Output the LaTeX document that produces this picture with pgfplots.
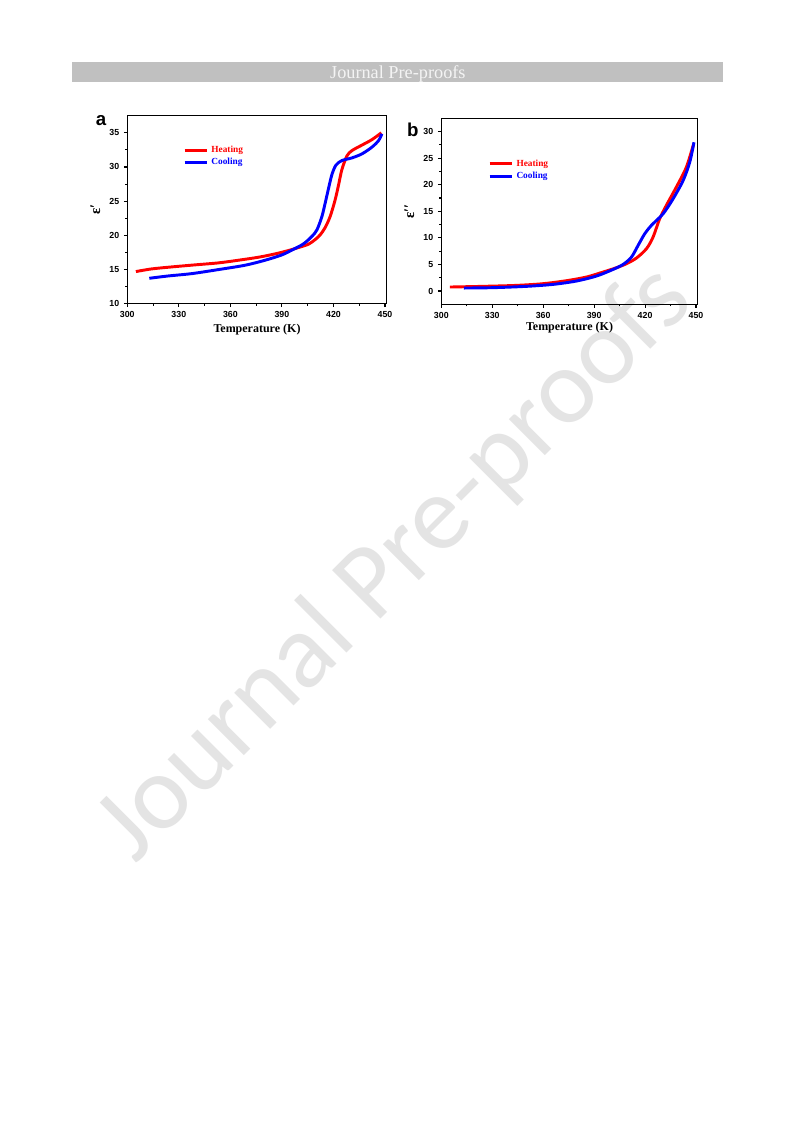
\documentclass[border=0pt]{standalone}
\usepackage{fontspec}
\setmainfont{Liberation Serif}
\newfontfamily\arialfont{Liberation Sans}
\newfontfamily\wmfont{Carlito}
\usepackage{pgfplots}
\pgfplotsset{compat=1.18}
\definecolor{barcol}{HTML}{C0C0C0}
\definecolor{wmcol}{HTML}{E4E4E4}
\definecolor{hdrtext}{HTML}{F4F4F4}

\pgfplotsset{myax/.style={
  scale only axis, anchor=north west,
  axis line style={line width=1pt},
  every tick/.style={black, line width=0.8pt},
  tick align=outside, xtick pos=left, ytick pos=left,
  major tick length=2.5pt, minor tick length=1.6pt,
  xmin=300, xmax=451, xtick={300,330,...,450}, minor x tick num=1,
  tick label style={font=\arialfont\bfseries\fontsize{6.6}{6.6}\selectfont},
  /pgf/number format/assume math mode=true,
  xlabel={Temperature (K)},
  xlabel style={font=\bfseries\fontsize{9}{9}\selectfont},
  ylabel style={font=\bfseries\fontsize{11}{11}\selectfont},
  legend style={draw=none, fill=none, inner sep=0pt, column sep=2pt, row sep=1.7pt,
    nodes={inner sep=0.5pt}, font=\bfseries\fontsize{7}{7}\selectfont},
  legend cell align=left,
  legend image code/.code={\draw[#1] (0pt,0pt) -- (16.5pt,0pt);},
  every axis plot/.append style={line width=2.2pt, smooth},
}}

\begin{document}
\begin{tikzpicture}
\fill[white] (0pt,0pt) rectangle (594.75pt,-840.75pt);
\node[rotate=45, text=wmcol, font=\wmfont\fontsize{80}{80}\selectfont, inner sep=0pt] at (297pt,-423pt) {Journal Pre-proofs};
\fill[barcol] (54pt,-46.7pt) rectangle (542.25pt,-61.7pt);
\node[text=hdrtext, font=\fontsize{13.7}{13.7}\selectfont, anchor=base, inner sep=0pt] at (298.4pt,-58.7pt) {Journal Pre-proofs};

\node[font=\arialfont\bfseries\fontsize{14}{14}\selectfont] at (75.8pt,-90.5pt) {a};
\node[font=\arialfont\bfseries\fontsize{14}{14}\selectfont] at (309.7pt,-97pt) {b};

\begin{axis}[myax, at={(95.475pt,-86.775pt)}, width=194.55pt, height=141pt,
  ymin=10, ymax=37.5, ytick={10,15,...,35}, minor y tick num=1,
  ylabel={ε′}, xlabel style={yshift=2.2pt},
  legend style={at={(0.214,0.844)}, anchor=north west}]
\addplot[red] coordinates {(305.0,14.70) (314.2,15.09) (325.8,15.38) (339.4,15.68) (353.0,15.97) (364.7,16.36) (376.4,16.80) (386.1,17.29) (393.8,17.78) (399.7,18.22) (405.5,18.71) (409.4,19.39) (412.3,20.08) (415.2,21.15) (418.1,22.77) (421.0,25.20) (423.0,27.40) (424.9,29.60) (427.8,31.60) (430.8,32.40) (436.6,33.20) (442.4,34.00) (447.9,35.00)};
\addplot[blue] coordinates {(312.8,13.72) (323.9,14.06) (337.5,14.40) (353.0,14.99) (368.6,15.63) (380.2,16.36) (390.0,17.14) (396.8,17.97) (402.6,18.76) (407.4,19.83) (410.4,20.81) (413.3,22.77) (415.2,24.73) (417.2,26.93) (419.1,28.88) (421.4,30.25) (424.9,30.94) (430.8,31.33) (436.6,31.92) (442.4,32.90) (446.3,33.87) (448.2,34.85)};
\legend{\textcolor{red}{Heating},\textcolor{blue}{Cooling}}
\end{axis}

\begin{axis}[myax, at={(330.975pt,-88.725pt)}, width=192.3pt, height=139.5pt,
  ymin=-2.5, ymax=32.5, ytick={0,5,...,30}, minor y tick num=1,
  ylabel={ε′′}, xlabel style={yshift=4.4pt},
  legend style={at={(0.182,0.783)}, anchor=north west, row sep=2.2pt}]
\addplot[red] coordinates {(305.1,0.75) (324.7,0.88) (344.3,1.06) (360.0,1.38) (373.7,1.94) (385.5,2.63) (395.3,3.57) (403.1,4.38) (409.0,5.13) (414.9,6.20) (420.8,7.95) (424.7,10.14) (428.6,13.59) (432.5,16.09) (438.4,19.54) (444.3,23.29) (448.6,27.68)};
\addplot[blue] coordinates {(313.3,0.56) (330.6,0.63) (350.2,0.88) (365.9,1.25) (379.6,1.88) (391.4,2.82) (401.2,4.07) (407.1,5.01) (412.0,6.39) (415.9,8.58) (419.8,10.77) (423.7,12.34) (430.6,14.53) (436.5,17.35) (442.4,20.79) (446.3,24.23) (448.8,27.99)};
\legend{\textcolor{red}{Heating},\textcolor{blue}{Cooling}}
\end{axis}
\end{tikzpicture}
\end{document}
